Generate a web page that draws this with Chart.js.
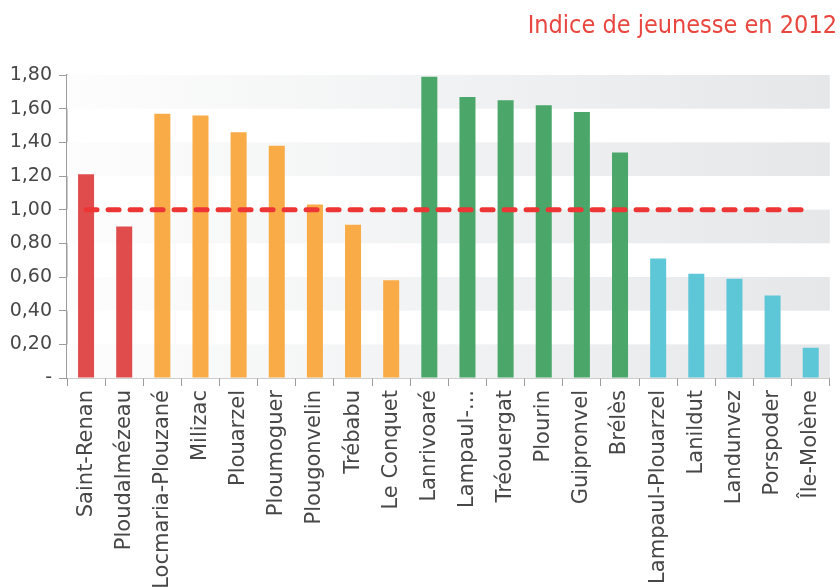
<!DOCTYPE html>
<html>
<head>
<meta charset="utf-8">
<script src="https://cdn.jsdelivr.net/npm/chart.js@4/dist/chart.umd.min.js"></script>
<style>
  html, body { margin: 0; padding: 0; background: #fff; overflow: hidden; }
  #wrap { width: 840px; height: 587px; }
</style>
</head>
<body>
<div id="wrap"><canvas id="chart"></canvas></div>
<script>
// Communes and their youth index in 2012
const communes = ['Saint-Renan', 'Ploudalmézeau', 'Locmaria-Plouzané', 'Milizac', 'Plouarzel',
  'Ploumoguer', 'Plougonvelin', 'Trébabu', 'Le Conquet', 'Lanrivoaré', 'Lampaul-...',
  'Tréouergat', 'Plourin', 'Guipronvel', 'Brélès', 'Lampaul-Plouarzel', 'Lanildut',
  'Landunvez', 'Porspoder', 'Île-Molène'];
const indice = [1.21, 0.90, 1.57, 1.56, 1.46, 1.38, 1.03, 0.91, 0.58, 1.79, 1.67,
  1.65, 1.62, 1.58, 1.34, 0.71, 0.62, 0.59, 0.49, 0.18];
// group of each commune (sets the bar colour)
const groupe = ['r', 'r', 'o', 'o', 'o', 'o', 'o', 'o', 'o', 'g', 'g',
  'g', 'g', 'g', 'g', 'c', 'c', 'c', 'c', 'c'];
const reference = [1, 1, 1, 1, 1, 1, 1, 1, 1, 1, 1, 1, 1, 1, 1, 1, 1, 1, 1, 1];
const yTicks = [0, 0.2, 0.4, 0.6, 0.8, 1.0, 1.2, 1.4, 1.6, 1.8];

const palette = { r: '#e04c4c', o: '#f8ab47', g: '#4aa669', c: '#5ec7d7' };
const axisGrey = '#9c9c9c';
const textGrey = '#474747';

// alternating grey bands with a light-to-dark horizontal gradient
const bands = {
  id: 'bands',
  beforeDatasetsDraw(chart) {
    const { ctx, chartArea: a, scales: { y } } = chart;
    const grad = ctx.createLinearGradient(a.left, 0, a.right, 0);
    grad.addColorStop(0, '#fdfdfd');
    grad.addColorStop(0.5, '#f1f2f3');
    grad.addColorStop(1, '#e6e7e9');
    ctx.save();
    ctx.fillStyle = grad;
    for (let i = 0; i < yTicks.length - 1; i += 2) {
      const top = y.getPixelForValue(yTicks[i + 1]);
      const bottom = y.getPixelForValue(yTicks[i]);
      ctx.fillRect(a.left, top, a.right - a.left, bottom - top);
    }
    ctx.restore();
  }
};

new Chart(document.getElementById('chart'), {
  data: {
    labels: communes,
    datasets: [{
      type: 'line',
      data: reference,
      borderColor: '#ee3535',
      borderWidth: 5,
      borderDash: [11, 11],
      borderCapStyle: 'round',
      pointRadius: 0,
      fill: false,
      order: 0
    }, {
      type: 'bar',
      data: indice,
      backgroundColor: groupe.map(g => palette[g]),
      barPercentage: 0.42,
      categoryPercentage: 1,
      order: 1
    }]
  },
  options: {
    responsive: true,
    maintainAspectRatio: false,
    animation: false,
    layout: { padding: { left: 0, right: 3, top: 0, bottom: 0 } },
    plugins: {
      legend: { display: false },
      tooltip: { enabled: false },
      title: {
        display: true,
        text: 'Indice de jeunesse en 2012',
        align: 'end',
        color: '#e8463f',
        font: { family: 'DejaVu Sans Condensed', size: 25, weight: 'normal' },
        padding: { top: 11, bottom: 34 }
      }
    },
    scales: {
      x: {
        grid: { display: true, drawOnChartArea: false, drawTicks: true, tickLength: 8, color: axisGrey, offset: true },
        border: { color: axisGrey, width: 1.5 },
        ticks: {
          autoSkip: false, maxRotation: 90, minRotation: 90, padding: 4,
          color: textGrey, font: { family: 'DejaVu Sans', size: 21 }
        },
        afterFit(scale) { scale.height = 209; }
      },
      y: {
        min: 0, max: 1.8,
        grid: { display: true, drawOnChartArea: false, drawTicks: true, tickLength: 8, color: axisGrey },
        border: { color: axisGrey, width: 1.5 },
        ticks: {
          stepSize: 0.2, padding: 7, color: textGrey,
          font: { family: 'DejaVu Sans', size: 19 },
          callback: v => v === 0 ? '-' : v.toFixed(2).replace('.', ',')
        },
        afterFit(scale) { scale.width = 67; }
      }
    }
  },
  plugins: [bands]
});
</script>
</body>
</html>
